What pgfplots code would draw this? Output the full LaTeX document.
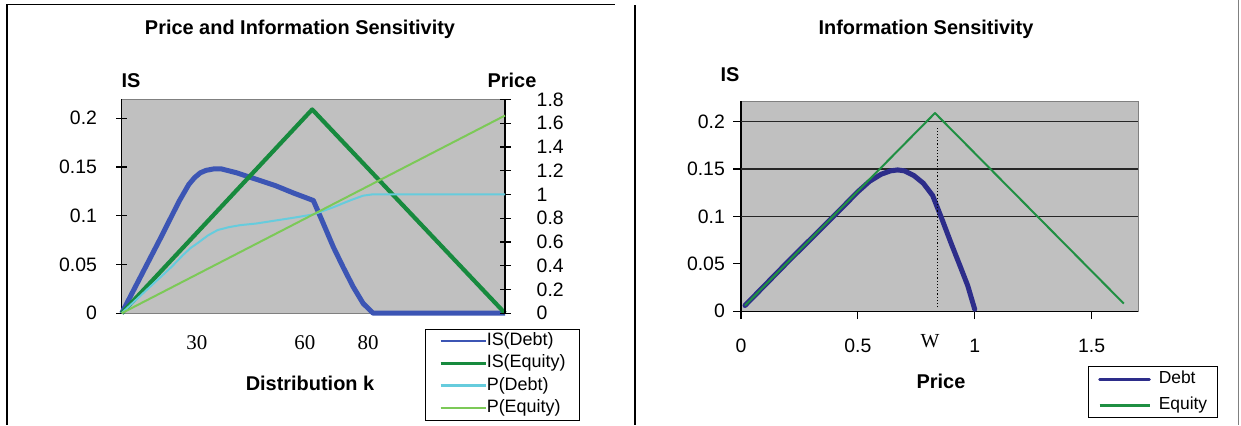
\documentclass[border=0pt]{standalone}
\usepackage{pgfplots}
\pgfplotsset{compat=1.18}
\usepackage{fontspec}
\setmainfont{Liberation Sans}
\newfontfamily\timesf{Liberation Serif}

\definecolor{plotbg}{HTML}{C0C0C0}
\definecolor{isdebt}{HTML}{3C55B4}
\definecolor{isequity}{HTML}{178A3E}
\definecolor{pdebt}{HTML}{66CCDD}
\definecolor{pequity}{HTML}{7CC957}
\definecolor{debtR}{HTML}{2D2D8A}
\definecolor{equityR}{HTML}{1F8F42}
\definecolor{frame}{HTML}{808080}

\pgfplotsset{
  common/.style={
    scale only axis,
    clip=false,
    /pgf/number format/assume math mode=true,
    tick label style={font=\fontsize{19.5}{21}\selectfont},
    axis background/.style={fill=plotbg, draw=frame, line width=1bp},
  }
}

\begin{document}
\begin{tikzpicture}[x=1bp,y=1bp]
\path (0,0) rectangle (1241,424);
% frames
\draw[black, line width=1.6bp] (7,0) -- (7,420) -- (615,420);
\draw[black, line width=1.4bp] (635,0) -- (635,419);
\draw[frame, line width=1bp] (1238,0) -- (1238,424);

% ---------------- left panel: IS axis ----------------
\begin{axis}[common,
  name=leftIS,
  at={(121.7bp,111.3bp)}, anchor=south west,
  width=383.3bp, height=213.7bp,
  xmin=0, xmax=100, ymin=0, ymax=0.2192,
  axis x line*=bottom, axis y line*=left,
  x axis line style={draw=frame, line width=1bp},
  y axis line style={draw=black, line width=1.3bp},
  ytick={0,0.05,0.1,0.15,0.2},
  yticklabels={0,0.05,0.1,0.15,0.2},
  tick align=center, major tick length=11bp,
  tick style={black, line width=1.2bp},
  yticklabel style={inner sep=0pt, anchor=east, xshift=-19bp},
  xtick={19.6,47.8,64.3}, xticklabels={30,60,80},
  xtick style={draw=none},
  xticklabel style={font=\timesf\fontsize{21}{22}\selectfont, inner sep=0pt, anchor=north, yshift=-17bp},
]
\addplot[isdebt, line width=5bp, line join=round] coordinates {
 (0,0) (5,0.038) (10,0.076) (15,0.115) (17.5,0.132) (19,0.139) (20.5,0.144)
 (22,0.1465) (24,0.148) (26,0.148) (28,0.146) (30,0.144) (35,0.1375)
 (40,0.131) (45,0.123) (50,0.1156) (52.6,0.092) (55.2,0.068) (57.8,0.047)
 (60.4,0.027) (63,0.010) (65.6,0) (100,0)};
\addplot[isequity, line width=4.2bp, line join=round] coordinates {
 (0,0) (49.7,0.209) (100,0)};
\end{axis}

% ---------------- left panel: Price axis ----------------
\begin{axis}[common,
  at={(121.7bp,111.3bp)}, anchor=south west,
  width=383.3bp, height=213.7bp,
  axis background/.style={},
  xmin=0, xmax=100, ymin=0, ymax=1.8,
  axis x line=none, axis y line*=right,
  y axis line style={draw=black, line width=1.3bp},
  ytick={0,0.2,0.4,0.6,0.8,1,1.2,1.4,1.6,1.8},
  yticklabels={0,0.2,0.4,0.6,0.8,1,1.2,1.4,1.6,1.8},
  tick align=center, major tick length=11bp,
  tick style={black, line width=1.2bp},
  yticklabel style={inner sep=0pt, anchor=west, xshift=26bp},
  legend style={at={(0.791,-0.0716)}, anchor=north west,
    draw=black, line width=0.8bp, fill=white,
    font=\fontsize{18}{20}\selectfont,
    inner xsep=14bp, inner ysep=3.5bp, row sep=5.4bp,
    nodes={inner sep=0pt, text height=13bp, text depth=4bp},
    /tikz/every even column/.append style={column sep=0bp}},
  legend cell align=left,
  legend image code/.code={\draw[#1, line width=2.5bp] (6bp,0bp) -- (51bp,0bp);},
]
\addlegendimage{isdebt}
\addlegendentry{IS(Debt)}
\addlegendimage{isequity}
\addlegendentry{IS(Equity)}
\addplot[pdebt, line width=2bp, line join=round] coordinates {
 (0,0) (4,0.12) (7.3,0.22) (10,0.30) (13,0.39) (16,0.49) (18,0.55) (20,0.595)
 (22.5,0.655) (25,0.70) (28,0.725) (31,0.742) (35,0.755) (40,0.78) (45,0.805)
 (50,0.832) (55,0.89) (60,0.955) (63,0.99) (65.2,1.0) (100,1.0)};
\addlegendentry{P(Debt)}
\addplot[pequity, line width=2bp] coordinates {(0,0) (100,1.665)};
\addlegendentry{P(Equity)}
\end{axis}

% ---------------- right panel ----------------
\begin{axis}[common,
  at={(741bp,113.3bp)}, anchor=south west,
  width=397.3bp, height=210bp,
  xmin=0, xmax=1.7, ymin=0, ymax=0.2215,
  axis x line*=bottom, axis y line*=left,
  axis line style={draw=black, line width=1.3bp},
  ytick={0,0.05,0.1,0.15,0.2},
  yticklabels={0,0.05,0.1,0.15,0.2},
  xtick={0,0.5,1,1.5}, xticklabels={0,0.5,1,1.5},
  tick align=outside, major tick length=8bp,
  tick style={black, line width=1.2bp},
  yticklabel style={inner sep=0pt, anchor=east, xshift=-8bp},
  xticklabel style={inner sep=0pt, anchor=north, yshift=-20bp},
  extra y ticks={0.1,0.15,0.2}, extra y tick labels={},
  extra y tick style={grid=major, major tick length=0pt},
  major grid style={draw=black!85, line width=1.1bp},
  legend style={at={(0.873,-0.263)}, anchor=north west,
    draw=black, line width=0.8bp, fill=white,
    font=\fontsize{17.5}{20}\selectfont,
    inner xsep=10bp, inner ysep=4bp, row sep=9bp,
    nodes={inner sep=0pt, text height=13bp, text depth=4bp},
    /tikz/every even column/.append style={column sep=0bp},
    /tikz/every odd column/.append style={column sep=8bp}},
  legend cell align=left,
  legend image code/.code={\draw[#1, line width=2.5bp] (0bp,0bp) -- (50bp,0bp);},
]
\addplot[debtR, line width=5bp, line join=round, line cap=round] coordinates {
 (0.017,0.006) (0.2,0.052) (0.4,0.101) (0.5,0.126) (0.55,0.137) (0.6,0.1445)
 (0.64,0.148) (0.67,0.149) (0.7,0.148) (0.74,0.143) (0.78,0.135) (0.82,0.122)
 (0.86,0.097) (0.9,0.071) (0.94,0.046) (0.97,0.027) (1.0,0.002)};
\addlegendentry{Debt}
\addplot[equityR, line width=2bp, line join=round] coordinates {
 (0.017,0.006) (0.83,0.209) (1.638,0.008)};
\addlegendentry{Equity}
\addplot[black, line width=1.2bp, dotted, forget plot] coordinates {(0.841,0.004) (0.841,0.193)};
\end{axis}

% ---------------- titles and labels ----------------
\begin{scope}[every node/.style={font=\bfseries\fontsize{20}{21}\selectfont, anchor=base, inner sep=0pt}]
\node at (300,389.7) {Price and Information Sensitivity};
\node at (131,336.7) {IS};
\node at (512,336.7) {Price};
\node at (310,34) {Distribution k};
\node at (926,389.7) {Information Sensitivity};
\node at (730,343.3) {IS};
\node at (941,36) {Price};
\end{scope}
\node[font=\timesf\fontsize{20}{20}\selectfont, anchor=base, inner sep=0pt] at (930,77) {W};
\end{tikzpicture}
\end{document}
